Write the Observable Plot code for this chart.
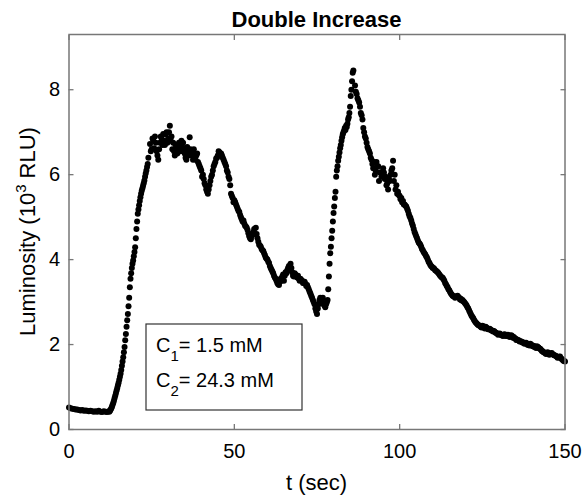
<!DOCTYPE html>
<html><head><meta charset="utf-8">
<script src="https://cdn.jsdelivr.net/npm/d3@7"></script>
<script src="https://cdn.jsdelivr.net/npm/@observablehq/plot@0.6"></script>
<style>
body{margin:0;background:#fff;}
#chart{width:586px;height:497px;}
</style></head><body><div id="chart"></div>
<script>
// ---- data ----
// each segment: start time (s), sampling step (s), luminosity values (10^3 RLU)
const baselineStart = 0, baselineStep = 0.5;
const baselineValues = [0.52,0.50,0.49,0.48,0.47,0.47,0.46,0.45,0.46,0.44,0.45,0.44,0.43,0.44,0.43,0.42,0.43,0.42,0.44,0.42,0.41,0.43,0.42,0.41,0.43];

const rise1Start = 12.2, rise1Step = 0.2;
const rise1Values = [0.42,0.44,0.47,0.50,0.54,0.58,0.63,0.68,0.74,0.80,
  0.86,0.92,0.98,1.04,1.10,1.17,1.24,1.31,1.40,1.50,
  1.60,1.70,1.82,1.94,2.10,2.25,2.42,2.57,2.72,2.90,
  3.10,3.35,3.55,3.68,3.80,3.90,3.98,4.08,4.18,4.29,
  4.50,4.72,4.90,5.08,5.18,5.28,5.38,5.47,5.55,5.62,
  5.68,5.74,5.80,5.86,5.95,6.03,6.10,6.18,6.25,6.40];

const plateauStart = 24.5, plateauStep = 0.5;
const plateauValues = [6.72,6.60,6.80,6.90,6.55,6.35,6.75,6.85,6.96,6.70,7.00,
  6.85,7.15,6.90,6.75,6.45,6.60,6.70,6.60,6.80,6.75,
  6.50,6.35,6.55,6.88,6.50,6.35,6.50,6.45,6.30,6.20,
  6.10,6.00,5.80,5.65,5.55,5.75,5.95,6.10,6.25,6.38,
  6.45,6.53,6.50,6.40,6.30,6.20,6.05,5.90,5.55,5.45,
  5.40,5.30,5.20,5.12,5.00,4.90,4.85,4.78,4.70,4.55,
  4.48,4.60,4.72,4.75,4.50,4.35,4.30,4.22,4.15,4.05,
  4.00,3.92,3.80,3.72,3.62,3.55,3.45,3.40,3.55,3.60,
  3.50,3.70,3.75,3.85,3.90,3.70,3.60,3.65,3.58,3.55,
  3.55,3.50,3.45,3.43,3.40,3.30,3.20,3.10,3.00,2.85,
  2.72,2.95,3.10,3.05,2.95,2.88,3.00];
// interleaved samples of the same plateau (band scatter)
const plateauBStart = 24.75, plateauBStep = 0.5;
const plateauBValues = [6.55,6.85,6.62,6.75,6.45,6.60,6.90,6.70,6.80,6.95,
  6.75,7.00,6.80,6.60,6.55,6.70,6.50,6.75,6.55,6.65,
  6.60,6.40,6.65,6.45,6.60,6.45,6.60,6.35,6.50,6.25,
  6.15,5.95,5.90,5.75,5.60,5.65,5.85,6.00,6.20,6.30,
  6.40,6.55,6.45,6.45,6.35,6.25,6.10,5.95,5.75,5.50,
  5.35,5.35,5.25,5.15,5.05,4.95,4.92,4.80,4.75,4.62,
  4.50,4.55,4.65,4.60,4.60,4.42,4.33,4.25,4.20,4.10,
  4.02,3.95,3.85,3.76,3.68,3.58,3.50,3.42,3.48,3.50,
  3.65,3.62,3.68,3.80,3.75,3.80,3.62,3.68,3.60,3.62,
  3.50,3.52,3.45,3.48,3.38,3.35,3.25,3.15,3.05,2.95,
  2.78,2.85,3.05,2.98,3.10,2.92,2.95];

const rise2Start = 78.2, rise2Step = 0.2;
const rise2Values = [3.05,3.30,3.60,3.90,4.15,4.30,4.50,4.68,4.90,5.10,
  5.25,5.45,5.60,5.95,6.10,6.20,6.33,6.42,6.52,6.62,
  6.70,6.80,6.88,6.95,7.00,7.04,7.10,7.05,7.15,7.12,
  7.20,7.30,7.35,7.45,7.60,7.85,8.00,8.20,8.40,8.45];

const decayStart = 86.5, decayStep = 0.5;
const decayValues = [8.10,7.90,7.75,7.60,7.40,7.10,6.90,
  6.75,6.60,6.50,6.35,6.15,6.00,6.30,6.20,6.05,5.95,
  6.15,5.90,5.75,5.65,5.85,6.10,6.33,6.00,5.75,5.60,
  5.50,5.45,5.38,5.30,5.25,5.15,5.02,4.92,4.80,4.65,
  4.55,4.45,4.38,4.30,4.22,4.15,4.08,4.00,3.92,3.85,
  3.80,3.78,3.74,3.70,3.65,3.60,3.57,3.50,3.42,3.35,
  3.28,3.20,3.15,3.13,3.12,3.15,3.10,3.08,3.05,3.00,
  2.95,2.88,2.80,2.72,2.65,2.58,2.52,2.48,2.45,2.42,
  2.44,2.40,2.42,2.38,2.36,2.35,2.33,2.32,2.28,2.26,
  2.25,2.24,2.22,2.23,2.21,2.22,2.20,2.21,2.20,2.18,
  2.14,2.12,2.10,2.08,2.06,2.05,2.03,2.02,2.00,2.02,
  1.98,1.97,1.95,1.96,1.93,1.90,1.85,1.82,1.80,1.79,
  1.80,1.78,1.80,1.76,1.74,1.72,1.70,1.72,1.66,1.62,
  1.60];
// interleaved samples of the decay (band scatter)
const decayBStart = 86.75, decayBStep = 0.5;
const decayBValues = [7.95,7.80,7.70,7.45,7.30,7.00,6.85,6.65,6.55,6.40,
  6.25,6.30,6.10,6.20,5.85,6.05,6.00,6.05,5.95,5.80,
  5.90,6.00,6.15,5.85,5.65,5.55,5.52,5.42,5.35,5.30,
  5.27,5.20,5.08,4.98,4.85,4.72,4.60,4.50,4.40,4.35,
  4.25,4.18,4.12,4.05,3.95,3.88,3.83,3.80,3.75,3.72,
  3.68,3.62,3.58,3.54,3.45,3.38,3.30,3.24,3.18,3.14,
  3.10,3.14,3.12,3.06,3.04,3.02,2.97,2.92,2.85,2.76,
  2.68,2.62,2.55,2.50,2.46,2.44,2.40,2.43,2.38,2.40,
  2.36,2.37,2.33,2.31,2.30,2.27,2.23,2.26,2.22,2.20,
  2.24,2.20,2.23,2.18,2.22,2.16,2.15,2.11,2.10,2.07,
  2.07,2.04,2.02,2.04,1.99,1.98,2.00,1.96,1.94,1.92,
  1.94,1.91,1.88,1.84,1.81,1.78,1.82,1.76,1.79,1.77,
  1.75,1.73,1.69,1.71,1.68,1.64,1.61];

const xTicks = [0, 50, 100, 150];
const yTicks = [0, 2, 4, 6, 8];
const xDomain = [0, 150];
const yDomain = [0, 9.3];
const titleText = "Double Increase";
const xLabelText = "t (sec)";
const yLabelParts = ["Luminosity (10", "3", " RLU)"];
const annotationLines = [["C", "1", "= 1.5 mM"], ["C", "2", "= 24.3 mM"]];

// ---- build table ----
const segments = [
  [baselineStart, baselineStep, baselineValues],
  [rise1Start, rise1Step, rise1Values],
  [plateauStart, plateauStep, plateauValues],
  [plateauBStart, plateauBStep, plateauBValues],
  [rise2Start, rise2Step, rise2Values],
  [decayStart, decayStep, decayValues],
  [decayBStart, decayBStep, decayBValues]
];
const data = [];
for (const [s, st, vals] of segments) vals.forEach((v, i) => data.push({t: +(s + i * st).toFixed(2), y: v}));

const axisColor = "#777";
const W = 586, H = 497, mT = 34, mL = 68.5, mR = 21.5, mB = 68;

const plot = Plot.plot({
  width: W, height: H,
  marginTop: mT, marginLeft: mL, marginRight: mR, marginBottom: mB,
  style: {fontFamily: "'Liberation Sans', Arial, Helvetica, sans-serif", fontSize: "20px", background: "#fff", color: "#000", overflow: "visible"},
  x: {domain: xDomain},
  y: {domain: yDomain},
  marks: [
    Plot.dot(data, {x: "t", y: "y", r: 3, fill: "#000", stroke: "none"}),
    Plot.axisX(xTicks, {anchor: "bottom", tickSize: 0, tickPadding: 14, fontSize: 20, label: null, fill: "#000"}),
    Plot.axisY(yTicks, {anchor: "left", tickSize: 0, tickPadding: 9, fontSize: 20, label: null, fill: "#000"}),
    Plot.axisX(xTicks, {anchor: "bottom", tickSize: -5, fill: "none", label: null, stroke: axisColor, strokeWidth: 1.3}),
    Plot.axisX(xTicks, {anchor: "top", tickSize: -5, fill: "none", label: null, stroke: axisColor, strokeWidth: 1.3}),
    Plot.axisY(yTicks, {anchor: "left", tickSize: -5, fill: "none", label: null, stroke: axisColor, strokeWidth: 1.3}),
    Plot.axisY(yTicks, {anchor: "right", tickSize: -5, fill: "none", label: null, stroke: axisColor, strokeWidth: 1.3}),
    Plot.frame({stroke: axisColor, strokeWidth: 1.5})
  ]
});
document.getElementById("chart").appendChild(plot);

// ---- titles, labels and annotation box ----
const svg = d3.select(plot);
const cx = mL + (W - mL - mR) / 2;
svg.append("text").attr("x", cx).attr("y", 27).attr("text-anchor", "middle")
  .attr("font-weight", "bold").attr("font-size", 22).attr("fill", "#000").text(titleText);
svg.append("text").attr("x", cx).attr("y", 490).attr("text-anchor", "middle")
  .attr("font-size", 22).attr("fill", "#000").text(xLabelText);
const cy = mT + (H - mT - mB) / 2;
const yl = svg.append("text").attr("transform", `translate(35,${cy}) rotate(-90)`)
  .attr("text-anchor", "middle").attr("font-size", 22).attr("fill", "#000");
yl.append("tspan").text(yLabelParts[0]);
yl.append("tspan").attr("dy", -9).attr("font-size", 15).text(yLabelParts[1]);
yl.append("tspan").attr("dy", 9).text(yLabelParts[2]);

const box = svg.append("g");
box.append("rect").attr("x", 146).attr("y", 324).attr("width", 156).attr("height", 86)
  .attr("fill", "#fff").attr("stroke", "#333").attr("stroke-width", 1.2);
annotationLines.forEach((ln, i) => {
  const tx = box.append("text").attr("x", 156).attr("y", 352 + i * 35).attr("text-anchor", "start")
    .attr("font-size", 20).attr("fill", "#000");
  tx.append("tspan").text(ln[0]);
  tx.append("tspan").attr("dy", 9).attr("font-size", 15).text(ln[1]);
  tx.append("tspan").attr("dy", -9).text(ln[2]);
});
</script></body></html>
